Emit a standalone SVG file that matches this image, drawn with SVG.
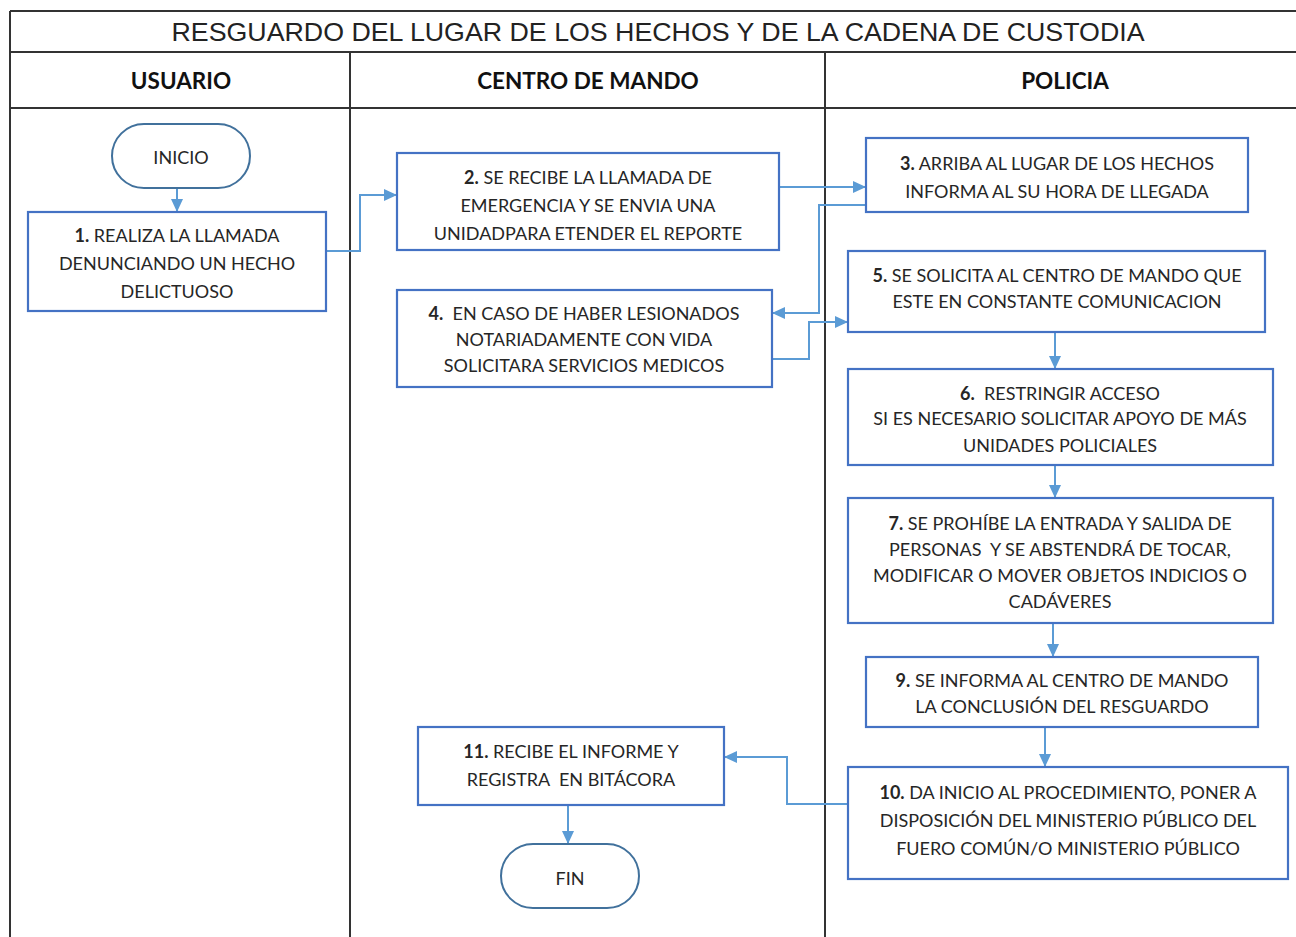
<svg xmlns="http://www.w3.org/2000/svg" width="1296" height="937" viewBox="0 0 1296 937">
<defs>
<style>
.grid{stroke:#333;stroke-width:2;fill:none}
.box{fill:#fff;stroke:#4472c4;stroke-width:2.2}
.term{fill:#fff;stroke:#41719c;stroke-width:2}
.t{font-family:Lato,"Liberation Sans",sans-serif;font-size:18px;fill:#262626;text-anchor:middle;white-space:pre}
.b{font-weight:bold}
.hd{font-family:Lato,"Liberation Sans",sans-serif;font-size:22.5px;font-weight:bold;fill:#111;text-anchor:middle}
.title{font-family:"Liberation Sans",Arial,sans-serif;font-size:26px;fill:#222;text-anchor:middle}
.c{fill:none;stroke:#5b9bd5;stroke-width:2;marker-end:url(#ah)}
</style>
<marker id="ah" markerWidth="13" markerHeight="12" refX="12" refY="6" orient="auto" markerUnits="userSpaceOnUse">
<path d="M0,0 L13,6 L0,12 z" fill="#5b9bd5"/>
</marker>
</defs>
<rect width="1296" height="937" fill="#fff"/>
<g id="frame">
<line class="grid" x1="10" y1="11" x2="1296" y2="11"/>
<line class="grid" x1="10" y1="52" x2="1296" y2="52"/>
<line class="grid" x1="10" y1="108" x2="1296" y2="108"/>
<line class="grid" x1="10" y1="11" x2="10" y2="937"/>
<line class="grid" x1="350" y1="52" x2="350" y2="937"/>
<line class="grid" x1="825" y1="52" x2="825" y2="937"/>
<text class="title" x="658" y="41" textLength="973" lengthAdjust="spacingAndGlyphs">RESGUARDO DEL LUGAR DE LOS HECHOS Y DE LA CADENA DE CUSTODIA</text>
<text class="hd" x="181" y="89">USUARIO</text>
<text class="hd" x="588" y="89">CENTRO DE MANDO</text>
<text class="hd" x="1065" y="89">POLICIA</text>
</g>
<g id="connectors">
<path class="c" d="M177,188 V211"/>
<path class="c" d="M326,251 H360 V195 H396"/>
<path class="c" d="M779,187 H865"/>
<path class="c" d="M866,205 H819 V313 H773"/>
<path class="c" d="M772,359 H809 V322 H847"/>
<path class="c" d="M1055,332 V368"/>
<path class="c" d="M1055,465 V497"/>
<path class="c" d="M1053,623 V656"/>
<path class="c" d="M1045,727 V766"/>
<path class="c" d="M848,804 H787 V757 H725"/>
<path class="c" d="M568,805 V843"/>
</g>
<g id="inicio">
<rect class="term" x="112" y="124" width="138" height="64" rx="32"/>
<text class="t" x="181" y="164">INICIO</text>
</g>
<g id="n1">
<rect class="box" x="28" y="212" width="298" height="99"/>
<text class="t" x="177" y="242"><tspan class="b">1.</tspan> REALIZA LA LLAMADA</text>
<text class="t" x="177" y="270">DENUNCIANDO UN HECHO</text>
<text class="t" x="177" y="298">DELICTUOSO</text>
</g>
<g id="n2">
<rect class="box" x="397" y="153" width="382" height="97"/>
<text class="t" x="588" y="184"><tspan class="b">2.</tspan> SE RECIBE LA LLAMADA DE</text>
<text class="t" x="588" y="212">EMERGENCIA Y SE ENVIA UNA</text>
<text class="t" x="588" y="240">UNIDADPARA ETENDER EL REPORTE</text>
</g>
<g id="n3">
<rect class="box" x="866" y="138" width="382" height="74"/>
<text class="t" x="1057" y="170"><tspan class="b">3.</tspan> ARRIBA AL LUGAR DE LOS HECHOS</text>
<text class="t" x="1057" y="198">INFORMA AL SU HORA DE LLEGADA</text>
</g>
<g id="n4">
<rect class="box" x="397" y="290" width="375" height="97"/>
<text class="t" x="584" y="320"><tspan class="b">4.</tspan>  EN CASO DE HABER LESIONADOS</text>
<text class="t" x="584" y="346">NOTARIADAMENTE CON VIDA</text>
<text class="t" x="584" y="372">SOLICITARA SERVICIOS MEDICOS</text>
</g>
<g id="n5">
<rect class="box" x="848" y="251" width="417" height="81"/>
<text class="t" x="1057" y="282"><tspan class="b">5.</tspan> SE SOLICITA AL CENTRO DE MANDO QUE</text>
<text class="t" x="1057" y="308">ESTE EN CONSTANTE COMUNICACION</text>
</g>
<g id="n6">
<rect class="box" x="848" y="369" width="425" height="96"/>
<text class="t" x="1060" y="400"><tspan class="b">6.</tspan>  RESTRINGIR ACCESO</text>
<text class="t" x="1060" y="425">SI ES NECESARIO SOLICITAR APOYO DE MÁS</text>
<text class="t" x="1060" y="452">UNIDADES POLICIALES</text>
</g>
<g id="n7">
<rect class="box" x="848" y="498" width="425" height="125"/>
<text class="t" x="1060" y="530"><tspan class="b">7.</tspan> SE PROHÍBE LA ENTRADA Y SALIDA DE</text>
<text class="t" x="1060" y="556">PERSONAS  Y SE ABSTENDRÁ DE TOCAR,</text>
<text class="t" x="1060" y="582">MODIFICAR O MOVER OBJETOS INDICIOS O</text>
<text class="t" x="1060" y="608">CADÁVERES</text>
</g>
<g id="n9">
<rect class="box" x="866" y="657" width="392" height="70"/>
<text class="t" x="1062" y="687"><tspan class="b">9.</tspan> SE INFORMA AL CENTRO DE MANDO</text>
<text class="t" x="1062" y="713">LA CONCLUSIÓN DEL RESGUARDO</text>
</g>
<g id="n10">
<rect class="box" x="848" y="767" width="440" height="112"/>
<text class="t" x="1068" y="799"><tspan class="b">10.</tspan> DA INICIO AL PROCEDIMIENTO, PONER A</text>
<text class="t" x="1068" y="827">DISPOSICIÓN DEL MINISTERIO PÚBLICO DEL</text>
<text class="t" x="1068" y="855">FUERO COMÚN/O MINISTERIO PÚBLICO</text>
</g>
<g id="n11">
<rect class="box" x="418" y="727" width="306" height="78"/>
<text class="t" x="571" y="758"><tspan class="b">11.</tspan> RECIBE EL INFORME Y</text>
<text class="t" x="571" y="786">REGISTRA  EN BITÁCORA</text>
</g>
<g id="fin">
<rect class="term" x="501" y="844" width="138" height="64" rx="32"/>
<text class="t" x="570" y="885">FIN</text>
</g>
</svg>
